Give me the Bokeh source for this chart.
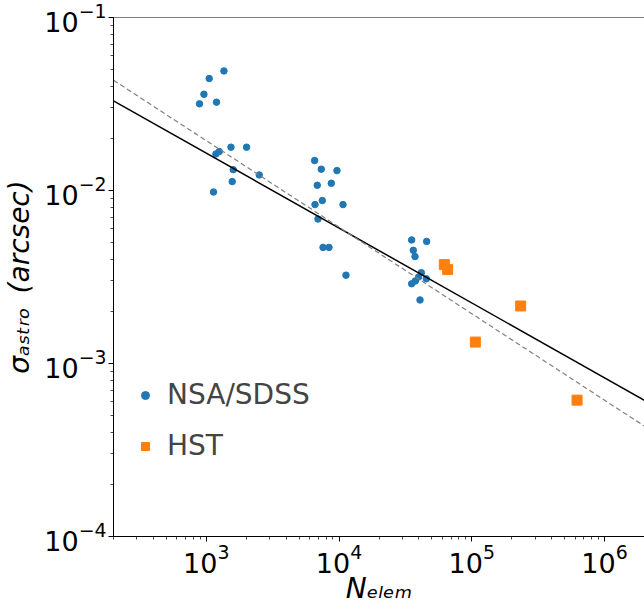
from bokeh.plotting import figure
from bokeh.models import Legend, LegendItem, Span
from bokeh.embed import file_html
from bokeh.resources import INLINE

# ---------------- data ----------------
nsa_n = [1358, 1052, 960, 889, 1194, 1534, 2011, 1182, 1252, 1596, 2506, 1568, 1134,
         6546, 7350, 9645, 6855, 8745, 7480, 6590, 10710, 6938, 7570, 8400, 11280,
         35230, 45700, 36260, 37350, 41690, 45440, 39720, 37570, 35230, 40740]
nsa_sigma = [0.0491, 0.0444, 0.0360, 0.0317, 0.0324, 0.0178, 0.0178, 0.01626, 0.0168, 0.0132,
             0.0123, 0.01126, 0.0098,
             0.0149, 0.01328, 0.01303, 0.01072, 0.01101, 0.00875, 0.00829, 0.00829, 0.00684,
             0.00469, 0.00469, 0.00324,
             0.00518, 0.00508, 0.00451, 0.00415, 0.00335, 0.00309, 0.00316, 0.00300, 0.00289, 0.00233]
hst_n = [62100, 65770, 233400, 106400, 620900]
hst_sigma = [0.00373, 0.00349, 0.00215, 0.00133, 0.000614]

fit_n = [200, 2.0e6]
fit_solid = [0.0330, 0.000612]
fit_dashed = [0.0434, 0.000434]

x_label = "Nₑₗₑₘ"
y_label = "σₐₛₜᵣₒ\u2002(arcsec)"

FONT = "DejaVu Sans"

p = figure(width=644, height=607, x_axis_type="log", y_axis_type="log",
           x_range=(200, 2.0e6), y_range=(1e-4, 1e-1),
           output_backend="svg", toolbar_location=None,
           min_border_left=113, min_border_right=0, min_border_top=17,
           min_border_bottom=71)
p.xgrid.visible = False
p.ygrid.visible = False
p.outline_line_color = None
p.background_fill_color = "white"
p.border_fill_color = "white"

for ax in (p.xaxis[0], p.yaxis[0]):
    ax.axis_line_color = "black"
    ax.axis_line_width = 1
    ax.major_tick_out = 5
    ax.major_tick_in = 0
    ax.minor_tick_out = 3
    ax.minor_tick_in = 0
    ax.major_tick_line_color = "black"
    ax.minor_tick_line_color = "black"
    ax.minor_tick_line_width = 0.7
    ax.major_label_text_font = FONT
    ax.major_label_text_font_size = "27px"
    ax.major_label_text_color = "black"
    ax.axis_label_text_font = FONT
    ax.axis_label_text_font_size = "28px"
    ax.axis_label_text_font_style = "italic"
    ax.axis_label_text_color = "black"

p.xaxis[0].major_label_standoff = 2
p.yaxis[0].major_label_standoff = 2
p.xaxis[0].axis_label = x_label
p.yaxis[0].axis_label = y_label
p.xaxis[0].axis_label_standoff = -4
p.yaxis[0].axis_label_standoff = 5

p.add_layout(Span(location=1e-1, dimension="width", line_color="black", line_width=1))

r_nsa = p.scatter(nsa_n, nsa_sigma, marker="circle", size=6.5,
                  fill_color="#1f77b4", line_color="#1f77b4")
r_hst = p.scatter(hst_n, hst_sigma, marker="square", size=10,
                  fill_color="#ff7f0e", line_color="#ff7f0e")

p.line(fit_n, fit_solid, line_color="black", line_width=1.5)
p.line(fit_n, fit_dashed, line_color="gray", line_width=1.2, line_dash="5 3")

legend = Legend(items=[LegendItem(label="NSA/SDSS", renderers=[r_nsa]),
                       LegendItem(label="HST", renderers=[r_hst])],
                location=(22, 74), orientation="vertical",
                label_text_font=FONT, label_text_font_size="28px",
                glyph_width=20, glyph_height=20, label_standoff=12,
                spacing=18, padding=0, margin=0,
                border_line_alpha=0, background_fill_alpha=0)
p.add_layout(legend)

open("out.html", "w").write(file_html(p, INLINE))
